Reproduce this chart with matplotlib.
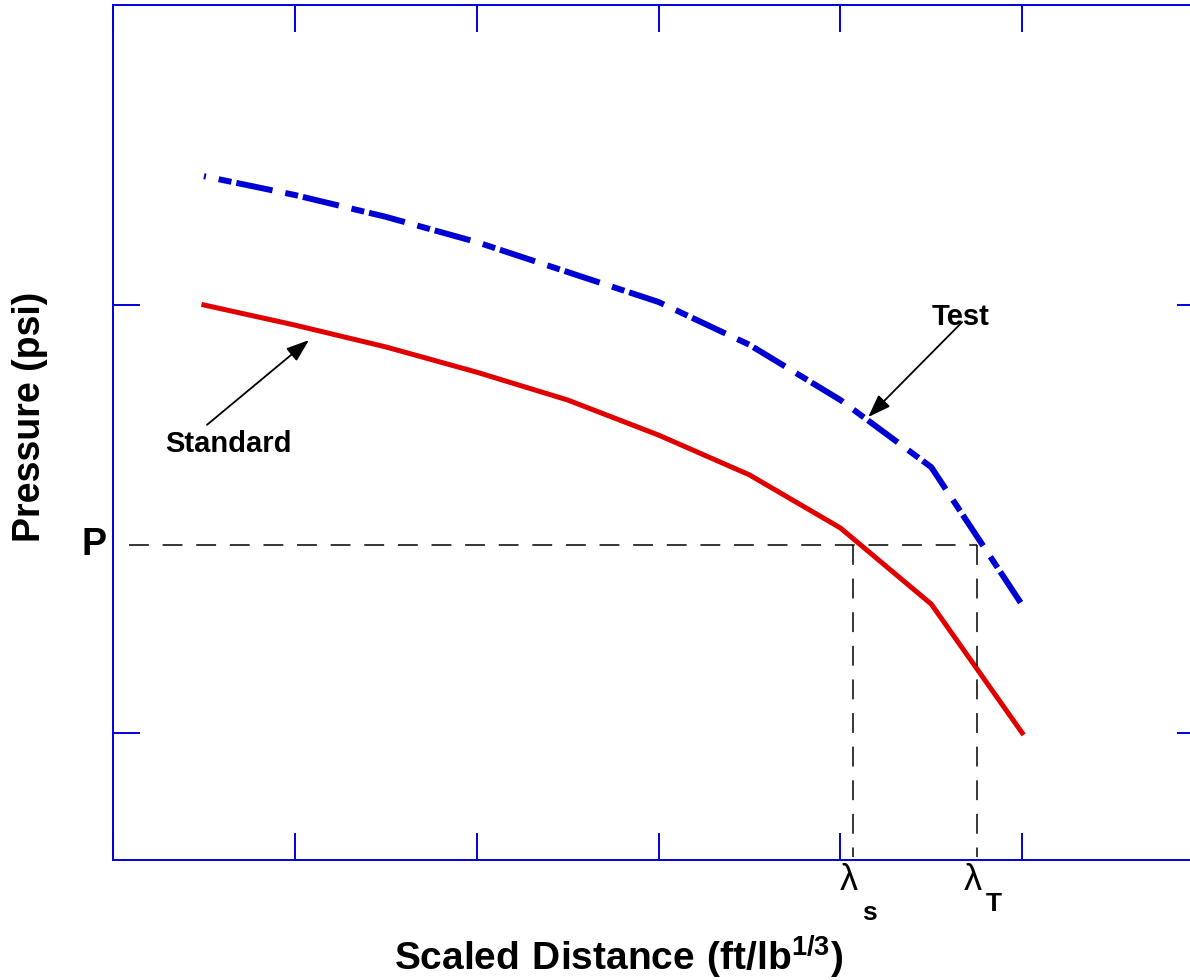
import matplotlib.pyplot as plt
import numpy as np

# scaled distance positions (arbitrary units, one tick per unit)
x_std = [0.5, 1.0, 1.5, 2.0, 2.5, 3.0, 3.5, 4.0, 4.5, 5.0]
p_std = [1.0, 0.953, 0.902, 0.843, 0.778, 0.696, 0.603, 0.479, 0.301, 0.0]

x_test = [0.5, 1.0, 1.5, 2.0, 2.5, 3.0, 3.5, 4.0, 4.5, 5.0]
p_test = [1.301, 1.257, 1.206, 1.147, 1.077, 1.007, 0.907, 0.778, 0.621, 0.299]

p_level = 0.44
p_start = 0.09
lambda_s = 4.07
lambda_t = 4.75

x_ticks = [0, 1, 2, 3, 4, 5, 6]
y_ticks = [0, 1]

axis_blue = '#0000dd'
font = 'Liberation Sans'

fig = plt.figure(figsize=(11.9, 9.8), dpi=100)
ax = fig.add_axes([0.09496, 0.12245, 0.91681, 0.87245])

ax.plot(x_std, p_std, color='#e00000', lw=3.6, solid_joinstyle='miter')
ax.plot(x_test, p_test, color='#0000d2', lw=4.3,
        linestyle=(8.87, (2.18, 0.84, 6.19, 2.18)))

# guide lines for P and the two scaled distances
dash = dict(color='black', lw=1.1, dashes=(13, 9))
ax.plot([p_start, lambda_t], [p_level, p_level], **dash)
ax.plot([lambda_s, lambda_s], [p_level, -0.29], **dash)
ax.plot([lambda_t, lambda_t], [p_level, -0.29], **dash)

ax.set_xlim(0, 6)
ax.set_ylim(-0.297, 1.701)
ax.set_xticks(x_ticks)
ax.set_yticks(y_ticks)
ax.tick_params(direction='in', length=19.4, width=1.4, color=axis_blue,
               top=True, right=True, labelbottom=False, labelleft=False)
for s in ax.spines.values():
    s.set_color(axis_blue)
    s.set_linewidth(1.4)

# arrows + labels
arrow = dict(arrowstyle='-|>,head_length=0.7,head_width=0.25', color='black',
             lw=1.3, shrinkA=0, shrinkB=0, mutation_scale=20)
ax.annotate('', xy=(1.078, 0.918), xytext=(0.517, 0.72), arrowprops=arrow)
ax.annotate('', xy=(4.153, 0.738), xytext=(4.67, 0.96), arrowprops=arrow)
ax.text(0.633, 0.657, 'Standard', ha='center', va='baseline', fontsize=21,
        fontweight='bold', family=font)
ax.text(4.659, 0.953, 'Test', ha='center', va='baseline', fontsize=21,
        fontweight='bold', family=font)

ax.annotate('P', xy=(0, p_level), xycoords=('axes fraction', 'data'),
            xytext=(-5, -7.2), textcoords='offset points', ha='right',
            va='baseline', fontsize=27, fontweight='bold', family=font)

for lam, sub, sub_y in [(lambda_s, 's', -43), (lambda_t, 'T', -37)]:
    ax.annotate('λ', xy=(lam, 0), xycoords=('data', 'axes fraction'),
                xytext=(3.5, -21.6), textcoords='offset points', ha='right',
                va='baseline', fontsize=26, family=font, annotation_clip=False)
    ax.annotate(sub, xy=(lam, 0), xycoords=('data', 'axes fraction'),
                xytext=(6.5, sub_y), textcoords='offset points', ha='left',
                va='baseline', fontsize=19, fontweight='bold', family=font,
                annotation_clip=False)

plt.rcParams['mathtext.fontset'] = 'custom'
plt.rcParams['mathtext.bf'] = 'Liberation Sans:bold'
plt.rcParams['mathtext.rm'] = 'Liberation Sans'
fig.text(619 / 1190, 1 - 971 / 980,
         r'$\mathbf{Scaled\ Distance\ (ft/lb}^{\mathbf{1/3}}\mathbf{)}$',
         ha='center', va='baseline', fontsize=28)
fig.text(30 / 1190, 1 - 417 / 980, 'Pressure (psi)', rotation=90,
         ha='center', va='center', fontsize=27, fontweight='bold', family=font)

fig.savefig('out.png', dpi=100)
